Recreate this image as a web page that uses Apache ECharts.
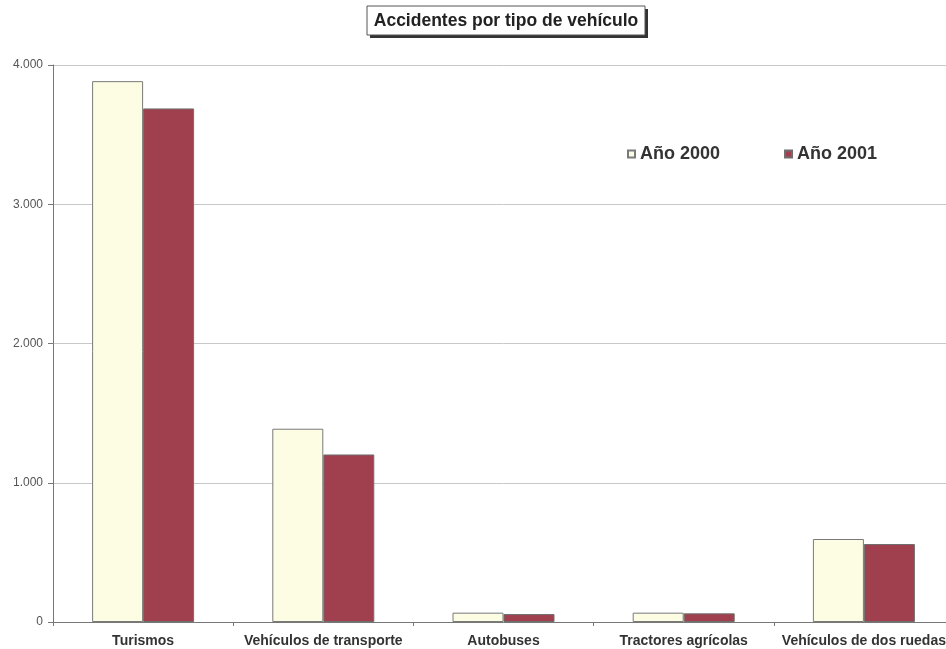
<!DOCTYPE html>
<html>
<head>
<meta charset="utf-8">
<script src="https://cdn.jsdelivr.net/npm/echarts@6/dist/echarts.min.js"></script>
<style>
  html, body { margin: 0; padding: 0; background: #fff; overflow: hidden; width: 946px; height: 649px; }
  /* The plot runs a little past the right edge of the page, so the canvas is wider than the viewport */
  #chart { width: 962px; height: 649px; }
</style>
</head>
<body>
<div id="chart"></div>
<script>
// Accidentes por tipo de vehículo, años 2000 y 2001
const categories = ['Turismos', 'Vehículos de transporte', 'Autobuses', 'Tractores agrícolas', 'Vehículos de dos ruedas'];
const seriesNames = ['Año 2000', 'Año 2001'];
const values2000 = [3884, 1388, 67, 67, 596];
const values2001 = [3688, 1203, 57, 62, 560];
const yTicks = [0, 1000, 2000, 3000, 4000];
const chartTitle = 'Accidentes por tipo de vehículo';

const fmt = v => String(v).replace(/\B(?=(\d{3})+(?!\d))/g, '.');

const chart = echarts.init(document.getElementById('chart'), null, { renderer: 'canvas' });

chart.setOption({
  animation: false,
  backgroundColor: '#ffffff',
  textStyle: { fontFamily: 'Liberation Sans, Arial, sans-serif' },
  // Boxed title with a solid drop shadow on the right and bottom
  graphic: [
    {
      type: 'rect',
      shape: { x: 370, y: 9, width: 278, height: 29 },
      style: { fill: '#333' },
      silent: true
    },
    {
      type: 'rect',
      shape: { x: 367, y: 6, width: 278, height: 29 },
      style: { fill: '#fff', stroke: '#555', lineWidth: 1 },
      silent: true
    },
    {
      type: 'text',
      x: 506,
      y: 21,
      style: {
        text: chartTitle,
        fill: '#222',
        font: 'bold 17.5px "Liberation Sans", Arial, sans-serif',
        textAlign: 'center',
        textVerticalAlign: 'middle'
      },
      silent: true
    }
  ],
  legend: {
    left: 622,
    top: 140,
    itemWidth: 7,
    itemHeight: 7,
    itemGap: 64,
    icon: 'rect',
    data: seriesNames,
    textStyle: { fontSize: 18, fontWeight: 'bold', color: '#333' }
  },
  grid: { left: 53, right: 8, top: 65, bottom: 27, containLabel: false },
  xAxis: {
    type: 'category',
    data: categories,
    axisLine: { lineStyle: { color: '#777', width: 1 } },
    axisTick: { show: true, length: 4, lineStyle: { color: '#777' } },
    axisLabel: { interval: 0, fontSize: 14, fontWeight: 'bold', color: '#333', margin: 12 },
    splitLine: { show: false }
  },
  yAxis: {
    type: 'value',
    min: yTicks[0],
    max: yTicks[yTicks.length - 1],
    interval: yTicks[1] - yTicks[0],
    axisLine: { show: true, lineStyle: { color: '#777', width: 1 } },
    axisTick: { show: true, length: 5, lineStyle: { color: '#777' } },
    axisLabel: { fontSize: 12, color: '#555', margin: 10, formatter: fmt },
    splitLine: { lineStyle: { color: '#c8c8c8', width: 1 } }
  },
  series: [
    {
      name: seriesNames[0],
      type: 'bar',
      data: values2000,
      barWidth: 51,
      barGap: '0%',
      itemStyle: { color: '#fdfde4', borderColor: '#7a7a7a', borderWidth: 1 }
    },
    {
      name: seriesNames[1],
      type: 'bar',
      data: values2001,
      barWidth: 51,
      barGap: '0%',
      itemStyle: { color: '#a0404f', borderColor: '#6e6e6e', borderWidth: 1 }
    }
  ]
});
</script>
</body>
</html>
